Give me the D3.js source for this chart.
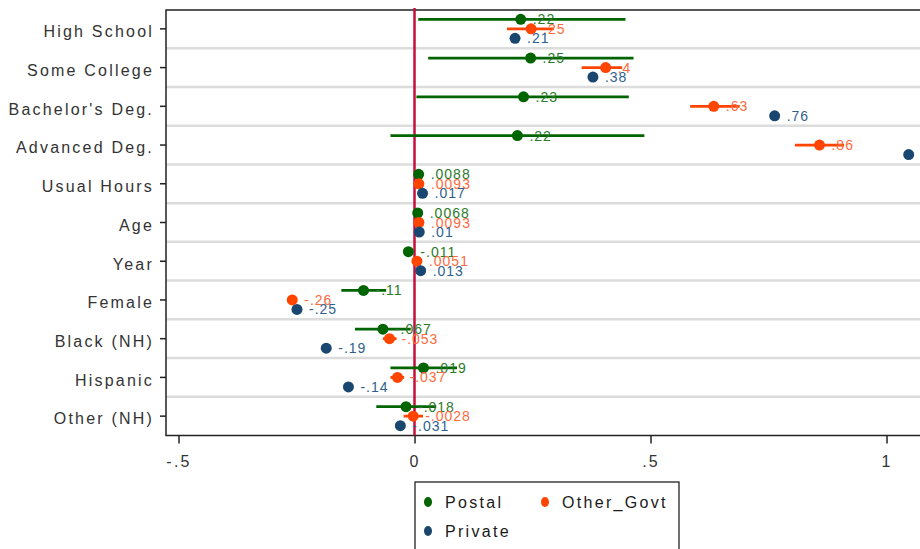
<!DOCTYPE html>
<html>
  <head>
    <meta charset="utf-8">
    <title>Coefficients by sector</title>
    <style>
      body {
        margin: 0;
        background: #fff;
        overflow: hidden;
      }
      svg {
        font-family: "Liberation Sans", Arial, sans-serif;
      }
      .sep {
        stroke: #dcdcdc;
        stroke-width: 2.5;
      }
      .frame {
        fill: none;
        stroke: #222;
        stroke-width: 1.5;
      }
      .axis text {
        font-size: 16px;
        letter-spacing: 2.2px;
        fill: #333;
      }
      .axis line {
        stroke: #222;
        stroke-width: 1.5;
      }
      .val {
        font-size: 14px;
        letter-spacing: 1px;
      }
      .legend text {
        font-size: 16px;
        letter-spacing: 2.3px;
        fill: #1a1a1a;
      }
    </style>
  </head>
  <body>

    <svg width="920" height="549"></svg>
    <script src="https://cdn.jsdelivr.net/npm/d3@7"></script>

    <script>
      var categories = ["High School", "Some College", "Bachelor's Deg.", "Advanced Deg.",
        "Usual Hours", "Age", "Year", "Female", "Black (NH)", "Hispanic", "Other (NH)"];

      // Postal
      var postalEst = [0.225, 0.246, 0.231, 0.218, 0.0088, 0.0068, -0.013, -0.108, -0.067, 0.019, -0.018];
      var postalLo = [0.008, 0.029, 0.004, -0.051, 0.005, 0.003, -0.022, -0.155, -0.126, -0.051, -0.081];
      var postalHi = [0.447, 0.464, 0.454, 0.487, 0.013, 0.011, -0.003, -0.060, -0.008, 0.090, 0.046];
      var postalLab = [".22", ".25", ".23", ".22", ".0088", ".0068", "-.011", "-.11", "-.067", ".019", "-.018"];

      // Other_Govt
      var govtEst = [0.247, 0.405, 0.634, 0.858, 0.0093, 0.0093, 0.0051, -0.259, -0.053, -0.036, -0.0028];
      var govtLo = [0.196, 0.354, 0.584, 0.806, 0.004, 0.004, 0.000, -0.268, -0.067, -0.051, -0.023];
      var govtHi = [0.295, 0.440, 0.689, 0.910, 0.014, 0.014, 0.010, -0.250, -0.038, -0.022, 0.018];
      var govtLab = [".25", ".4", ".63", ".86", ".0093", ".0093", ".0051", "-.26", "-.053", "-.037", "-.0028"];

      // Private
      var privEst = [0.213, 0.378, 0.763, 1.047, 0.017, 0.010, 0.013, -0.249, -0.187, -0.140, -0.030];
      var privLo = [0.207, 0.372, 0.757, 1.040, 0.015, 0.008, 0.011, -0.254, -0.192, -0.145, -0.035];
      var privHi = [0.219, 0.384, 0.769, 1.054, 0.019, 0.012, 0.015, -0.244, -0.182, -0.135, -0.025];
      var privLab = [".21", ".38", ".76", "1", ".017", ".01", ".013", "-.25", "-.19", "-.14", "-.031"];

      var xTicks = [-0.5, 0, 0.5, 1];

      var series = [
        { name: "Postal", est: postalEst, lo: postalLo, hi: postalHi, lab: postalLab,
          color: "#006400", text: "#2b7a2b", off: -9.5 },
        { name: "Other_Govt", est: govtEst, lo: govtLo, hi: govtHi, lab: govtLab,
          color: "#ff4500", text: "#ff6a3d", off: 0 },
        { name: "Private", est: privEst, lo: privLo, hi: privHi, lab: privLab,
          color: "#1a476f", text: "#2f5f8f", off: 9.5 }
      ];

      var svg = d3.select("svg");
      // note: "top" is taken by window.top, so use plot* names
      var plotLeft = 166, plotTop = 10, plotBottom = 435.5;

      var x = d3.scaleLinear().domain([-0.5265, 1.12]).range([plotLeft, plotLeft + 1.6465 * 472]);
      var y = d3.scaleBand().domain(categories).range([9.5, plotBottom]).padding(0);
      var mid = d => y(d) + y.bandwidth() / 2;

      // row separators
      svg.append("g")
        .selectAll("line")
        .data(categories.slice(0, -1))
        .enter()
        .append("line")
        .attr("class", "sep")
        .attr("x1", plotLeft).attr("x2", 940)
        .attr("y1", d => y(d) + y.bandwidth())
        .attr("y2", d => y(d) + y.bandwidth());

      // axes
      var yAxis = svg.append("g")
        .attr("class", "axis")
        .attr("transform", `translate(${plotLeft},0)`)
        .call(d3.axisLeft(y).tickSize(6).tickPadding(6));
      yAxis.select(".domain").remove();
      yAxis.selectAll("text").attr("fill", "#333").attr("dy", "0.52em");

      var fmt = v => v === 0 ? "0" : String(v).replace("0.", ".");
      var xAxis = svg.append("g")
        .attr("class", "axis")
        .attr("transform", `translate(0,${plotBottom})`)
        .call(d3.axisBottom(x).tickValues(xTicks).tickFormat(fmt).tickSize(8).tickPadding(12));
      xAxis.select(".domain").remove();
      xAxis.selectAll("text").attr("fill", "#222");

      // plot frame
      svg.append("path")
        .attr("class", "frame")
        .attr("d", `M940,${plotTop}H${plotLeft}V${plotBottom}H940`);

      // zero line
      svg.append("line")
        .attr("x1", x(0)).attr("x2", x(0))
        .attr("y1", 8).attr("y2", plotBottom)
        .attr("stroke", "#c4103c")
        .attr("stroke-width", 2.5);

      // series
      series.forEach(function(s) {
        var g = svg.append("g");
        g.selectAll("line")
          .data(categories)
          .enter()
          .append("line")
          .attr("x1", (d, i) => x(s.lo[i]))
          .attr("x2", (d, i) => x(s.hi[i]))
          .attr("y1", d => mid(d) + s.off)
          .attr("y2", d => mid(d) + s.off)
          .attr("stroke", s.color)
          .attr("stroke-width", 2.8);
        g.selectAll("circle")
          .data(categories)
          .enter()
          .append("circle")
          .attr("cx", (d, i) => x(s.est[i]))
          .attr("cy", d => mid(d) + s.off)
          .attr("r", 5.5)
          .attr("fill", s.color);
        g.selectAll("text")
          .data(categories)
          .enter()
          .append("text")
          .attr("class", "val")
          .attr("x", (d, i) => x(s.est[i]) + 12)
          .attr("y", d => mid(d) + s.off)
          .attr("dy", "0.36em")
          .attr("fill", s.text)
          .text((d, i) => s.lab[i]);
      });

      // legend
      var legend = svg.append("g").attr("class", "legend");
      legend.append("rect")
        .attr("x", 415).attr("y", 482)
        .attr("width", 264).attr("height", 90)
        .attr("fill", "#fff")
        .attr("stroke", "#222")
        .attr("stroke-width", 1.3);
      var legPos = [[428, 502], [545, 502], [428, 531]];
      series.forEach(function(s, i) {
        var p = legPos[i];
        legend.append("ellipse")
          .attr("cx", p[0]).attr("cy", p[1])
          .attr("rx", 4).attr("ry", 5)
          .attr("fill", s.color);
        legend.append("text")
          .attr("x", p[0] + 17).attr("y", p[1])
          .attr("dy", "0.36em")
          .text(s.name);
      });
    </script>
  </body>
</html>
